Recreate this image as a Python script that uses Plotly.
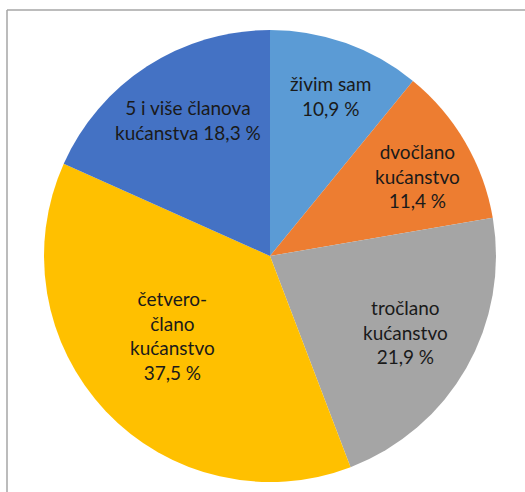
import plotly.graph_objects as go

# household size shares (%), clockwise from 12 o'clock
categories = ["živim sam", "dvočlano kućanstvo", "tročlano kućanstvo",
              "četveročlano kućanstvo", "5 i više članova kućanstva"]
values = [10.9, 11.4, 21.9, 37.5, 18.3]
label_lines = ["živim sam", "dvočlano<br>kućanstvo", "tročlano<br>kućanstvo",
               "četvero-<br>člano<br>kućanstvo", "5 i više članova<br>kućanstva"]
value_sep = ["<br>", "<br>", "<br>", "<br>", " "]

colors = ["#5B9BD5", "#ED7D31", "#A5A5A5", "#FFC000", "#4472C4"]

W, H = 525, 492
cx, cy, r = 270, 256, 226

fig = go.Figure(go.Pie(
    labels=categories, values=values, sort=False, direction="clockwise",
    rotation=0, textinfo="none", hoverinfo="label+percent",
    marker=dict(colors=colors, line=dict(width=0)),
    domain=dict(x=[(cx - r) / W, (cx + r) / W], y=[(H - cy - r) / H, (H - cy + r) / H]),
    showlegend=False,
))

# label placement (pixel centres of each text block)
label_pos = [(330, 96), (417, 176), (405, 332), (172, 335), (188, 120)]
for lab, sep, val, (px_, py_) in zip(label_lines, value_sep, values, label_pos):
    txt = lab + sep + f"{val:.1f} %".replace(".", ",")
    fig.add_annotation(x=px_ / W, y=1 - py_ / H, xref="paper", yref="paper",
                       xanchor="center", yanchor="middle",
                       text=txt, showarrow=False, align="center",
                       font=dict(family="Lato", size=19, color="#1a1a1a"))

# chart frame (left and top edges visible)
fig.add_shape(type="line", xref="paper", yref="paper", x0=7 / W, x1=7 / W, y0=0, y1=1 - 10 / H,
              line=dict(color="#A6A6A6", width=1.5))
fig.add_shape(type="line", xref="paper", yref="paper", x0=7 / W, x1=1, y0=1 - 10 / H, y1=1 - 10 / H,
              line=dict(color="#A6A6A6", width=1.5))

fig.update_layout(width=W, height=H, margin=dict(l=0, r=0, t=0, b=0),
                  paper_bgcolor="white", plot_bgcolor="white")

fig.write_html("out.html", config={"displayModeBar": False},
               post_script="document.body.style.margin='0';")
